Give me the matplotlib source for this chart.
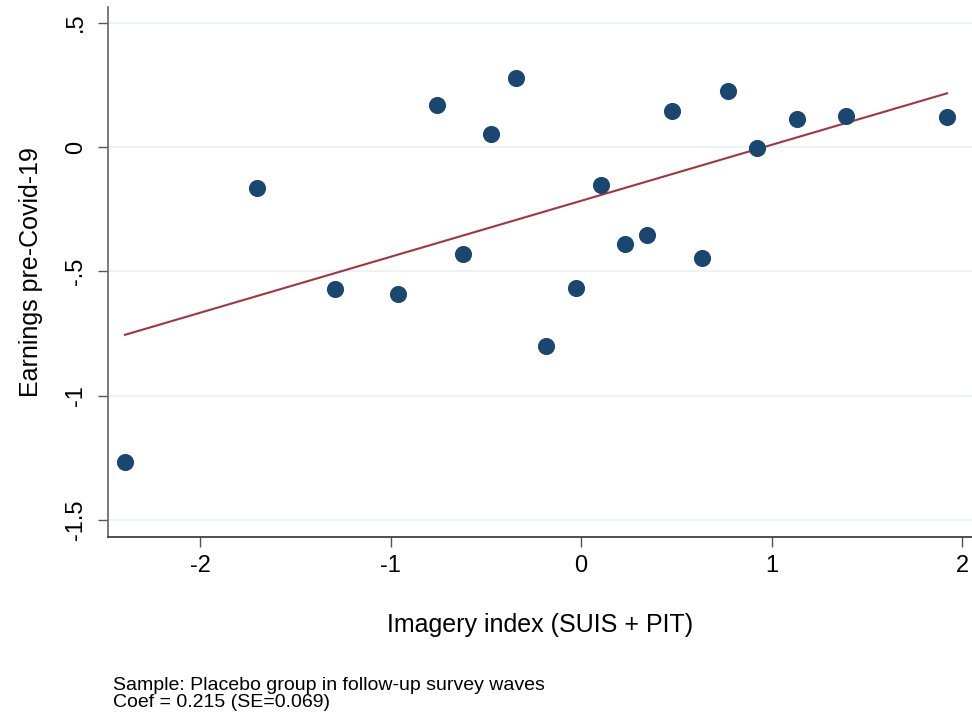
import numpy as np
import matplotlib
matplotlib.use("Agg")
import matplotlib.pyplot as plt

# binned means
imagery = [-2.394, -1.701, -1.291, -0.963, -0.754, -0.622, -0.474, -0.341, -0.184,
           -0.028, 0.105, 0.231, 0.345, 0.479, 0.633, 0.773, 0.922, 1.134, 1.392, 1.921]
earnings = [-1.265, -0.166, -0.572, -0.591, 0.169, -0.432, 0.052, 0.279, -0.799,
            -0.568, -0.153, -0.390, -0.353, 0.145, -0.446, 0.226, -0.005, 0.111, 0.126, 0.121]

xticks = [-2, -1, 0, 1, 2]
yticks = [0.5, 0, -0.5, -1, -1.5]
ytick_labels = [".5", "0", "-.5", "-1", "-1.5"]

plt.rcParams['font.family'] = ['Liberation Sans', 'DejaVu Sans']
plt.rcParams['axes.unicode_minus'] = False

fig = plt.figure(figsize=(9.72, 7.17), dpi=100)
ax = fig.add_axes([108 / 972, 180 / 717, 864 / 972, 530 / 717])

x = np.array(imagery)
y = np.array(earnings)
b, a = np.polyfit(x, y, 1)
xs = np.array([x.min(), x.max()])

ax.plot(x, y, 'o', color='#1a476f', markersize=11.3, zorder=3)
ax.plot(xs, a + b * xs, color='#a0363e', linewidth=1.5, zorder=2)

ax.set_xlim(-2.483, 2.052)
ax.set_ylim(-1.568, 0.563)
ax.set_xticks(xticks)
ax.set_yticks(yticks)
ax.set_yticklabels(ytick_labels, rotation=90, va='center')
ax.yaxis.grid(True, color='#eaf1f3', linewidth=1.2)
ax.set_axisbelow(True)

for s in ['top', 'right']:
    ax.spines[s].set_visible(False)
ax.spines['left'].set_color('#707070')
ax.spines['bottom'].set_color('#404040')
ax.spines['left'].set_linewidth(1.3)
ax.spines['bottom'].set_linewidth(1.3)
ax.tick_params(axis='x', length=7, width=1, color='#555555', labelsize=17, pad=6)
ax.tick_params(axis='y', length=7, width=1, color='#555555', labelsize=17, pad=8)

ax.set_xlabel("Imagery index (SUIS + PIT)", fontsize=18, labelpad=26)
ax.set_ylabel("Earnings pre-Covid-19", fontsize=18, labelpad=16)

fig.text(113 / 972, 1 - 690 / 717, "Sample: Placebo group in follow-up survey waves",
         fontsize=14, va='baseline')
fig.text(113 / 972, 1 - 707 / 717, "Coef = 0.215 (SE=0.069)",
         fontsize=14, va='baseline')

fig.savefig("out.png", dpi=100)
